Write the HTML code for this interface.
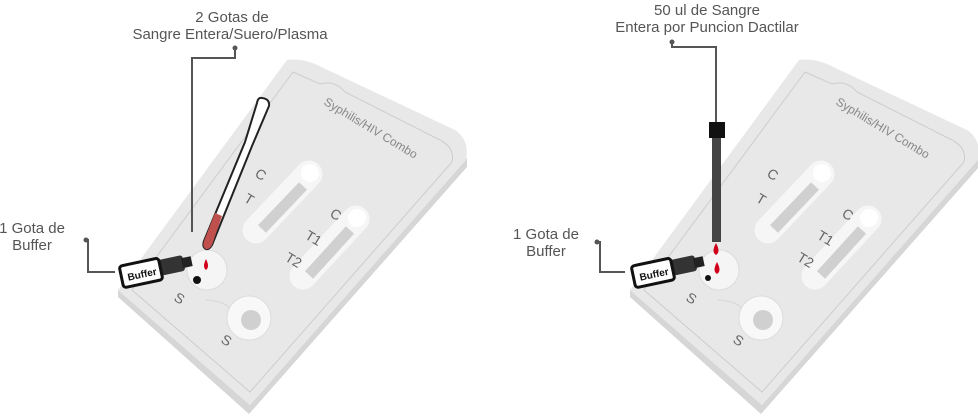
<!DOCTYPE html>
<html><head><meta charset="utf-8"><style>
html,body{margin:0;padding:0;background:#fff;}
svg{display:block;}
text{font-family:"Liberation Sans",sans-serif;}
</style></head><body>
<svg width="978" height="415" viewBox="0 0 978 415" xmlns="http://www.w3.org/2000/svg">
<defs>
<g id="card">
  <path d="M118 297 L249 414 L467 167 L467 158 L250 405 L118 290 Z" fill="#d6d6d6"/>
  <path d="M287 60 Q300 58 315 64 L455 130 Q470 140 466 160 L250 405 L118 290 Z" fill="#e8e8e8"/>
  <path d="M293 72 L320 84 Q335 80 345 92 L440 140 Q455 148 452 162 L250 392 L132 290 Z" fill="none" stroke="#cdcdcd" stroke-width="1"/>
  <text x="0" y="0" transform="translate(323,104) rotate(31)" font-size="12" fill="#888">Syphilis/HIV Combo</text>
  <line x1="309" y1="174" x2="256" y2="230" stroke="#f6f6f6" stroke-width="27" stroke-linecap="round"/>
  <line x1="303" y1="186" x2="262" y2="229" stroke="#d0d0d0" stroke-width="11"/>
  <circle cx="310" cy="173" r="9" fill="#fff"/>
  <line x1="356" y1="219" x2="303" y2="276" stroke="#f6f6f6" stroke-width="27" stroke-linecap="round"/>
  <line x1="350" y1="230" x2="309" y2="275" stroke="#d0d0d0" stroke-width="11"/>
  <circle cx="357" cy="218" r="9" fill="#fff"/>
  <text transform="translate(254,176) rotate(31)" font-size="14" fill="#666">C</text>
  <text transform="translate(243,201) rotate(31)" font-size="14" fill="#666">T</text>
  <text transform="translate(329,216) rotate(31)" font-size="14" fill="#666">C</text>
  <text transform="translate(304,238) rotate(31)" font-size="14" fill="#666">T1</text>
  <text transform="translate(284,260) rotate(31)" font-size="14" fill="#666">T2</text>
  <path d="M205 300 Q230 300 238 320" fill="none" stroke="#d6d6d6"/>
  <circle cx="207" cy="270" r="20" fill="#f5f5f5" stroke="#dcdcdc"/>
  <circle cx="249" cy="318" r="22" fill="#f8f8f8" stroke="#dcdcdc"/>
  <circle cx="251" cy="320" r="10" fill="#d0d0d0"/>
  <text transform="translate(173,300) rotate(31)" font-size="14" fill="#666">S</text>
  <text transform="translate(220,342) rotate(31)" font-size="14" fill="#666">S</text>
</g>
<g id="buffer">
  <g transform="rotate(-12 150 272)">
    <rect x="147" y="262" width="38" height="16" rx="3" fill="#333"/>
    <rect x="183" y="265" width="10" height="10" fill="#222"/>
    <rect x="121" y="260" width="40" height="22" rx="3" fill="#fff" stroke="#111" stroke-width="3"/>
    <text x="127" y="276" font-size="10" fill="#111" font-weight="bold">Buffer</text>
  </g>
</g>
</defs>

<use href="#card"/>
<use href="#buffer"/>
<circle cx="197" cy="280" r="4" fill="#111"/>
<path d="M262 98 Q270 99 269 106 L252 146 L212 245 Q209 250 206 249 Q202 247 204 241 L245 142 L257 103 Q258 97 262 98 Z" fill="#fff" stroke="#222" stroke-width="2"/>
<path d="M222 216 L212 245 Q209 250 206 249 Q202 247 204 241 L215 213 Z" fill="#c0504d"/>
<path d="M206 259 Q202 267 206 270 Q210 267 206 259 Z" fill="#d0021b"/>
<polyline points="235,48 235,58 192,58 192,232" fill="none" stroke="#555" stroke-width="2"/>
<circle cx="235" cy="48" r="2.5" fill="#555"/>
<polyline points="86,240 88,240 88,272 115,272" fill="none" stroke="#555" stroke-width="2"/>
<circle cx="86" cy="240" r="2.5" fill="#555"/>
<text x="232" y="22" font-size="15" fill="#555" text-anchor="middle">2 Gotas de</text>
<text x="230" y="39" font-size="15" fill="#555" text-anchor="middle">Sangre Entera/Suero/Plasma</text>
<text x="32" y="233" font-size="15" fill="#555" text-anchor="middle">1 Gota de</text>
<text x="32" y="250" font-size="15" fill="#555" text-anchor="middle">Buffer</text>

<g transform="translate(512,0)">
  <use href="#card"/>
  <use href="#buffer"/>
  <circle cx="196" cy="278" r="3" fill="#111"/>
</g>
<rect x="712" y="136" width="9" height="106" fill="#444"/>
<rect x="709" y="122" width="16" height="16" fill="#111"/>
<path d="M716 243 Q711 252 716 255 Q721 252 716 243 Z" fill="#d0021b"/>
<path d="M717 262 Q712 271 717 274 Q722 271 717 262 Z" fill="#d0021b"/>
<polyline points="672,42 672,47 716,47 716,122" fill="none" stroke="#555" stroke-width="2"/>
<circle cx="672" cy="42" r="2.5" fill="#555"/>
<polyline points="597,242 600,242 600,272 625,272" fill="none" stroke="#555" stroke-width="2"/>
<circle cx="597" cy="242" r="2.5" fill="#555"/>
<text x="707" y="15" font-size="15" fill="#555" text-anchor="middle">50 ul de Sangre</text>
<text x="707" y="32" font-size="15" fill="#555" text-anchor="middle">Entera por Puncion Dactilar</text>
<text x="546" y="239" font-size="15" fill="#555" text-anchor="middle">1 Gota de</text>
<text x="546" y="256" font-size="15" fill="#555" text-anchor="middle">Buffer</text>
</svg>
</body></html>
